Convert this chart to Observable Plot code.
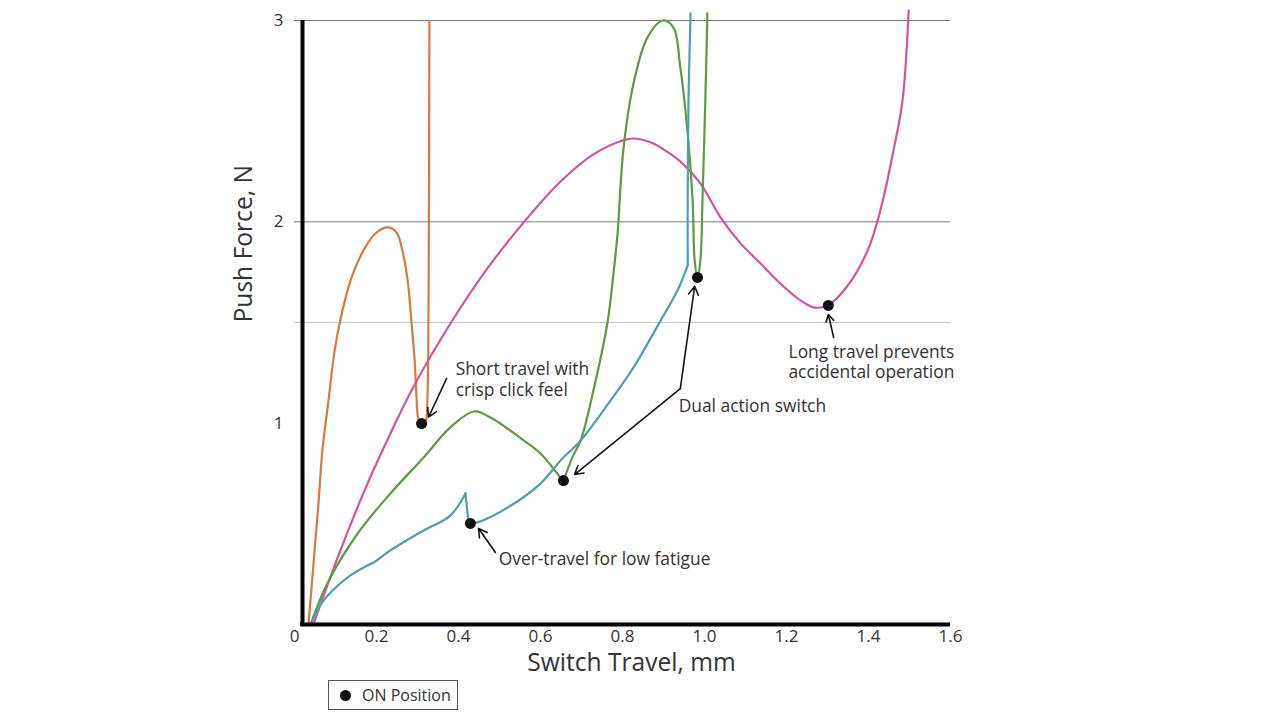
<!DOCTYPE html>
<html><head><meta charset="utf-8">
<script src="https://cdn.jsdelivr.net/npm/d3@7"></script>
<script src="https://cdn.jsdelivr.net/npm/@observablehq/plot@0.6"></script>
<style>
body{margin:0;background:#fff;font-family:"Open Sans",sans-serif;}
#wrap{position:relative;width:1280px;height:721px;overflow:hidden;}
#legend{position:absolute;left:328px;top:680px;width:128px;height:28px;border:1px solid #555;box-sizing:content-box;display:flex;align-items:center;font-size:16px;color:#333;}
#legend .dot{display:inline-block;width:11px;height:11px;border-radius:50%;background:#111;margin-left:11px;margin-right:11px;}
</style></head><body><div id="wrap"></div>
<script>
// Curves (x: switch travel mm, y: push force N)
const orangeX = [0.034,0.041,0.049,0.059,0.068,0.083,0.098,0.117,0.141,0.171,0.200,0.229,0.249,0.263,0.276,0.285,0.293,0.298,0.302,0.310,0.320,0.324,0.327,0.329];
const orangeY = [0,0.169,0.368,0.616,0.864,1.113,1.361,1.560,1.734,1.868,1.947,1.972,1.947,1.858,1.709,1.510,1.311,1.113,1.023,0.998,1.013,1.113,1.61,3.0];
const orangeBreaks = [];

const pinkX = [0.046,0.112,0.178,0.234,0.290,0.388,0.471,0.556,0.649,0.729,0.802,0.827,0.868,0.900,0.941,0.990,1.039,1.088,1.137,1.185,1.234,1.266,1.300,1.344,1.398,1.429,1.461,1.483,1.498];
const pinkY = [0,0.368,0.700,0.949,1.180,1.520,1.770,1.990,2.200,2.335,2.405,2.414,2.395,2.360,2.300,2.191,2.022,1.893,1.793,1.694,1.610,1.575,1.585,1.669,1.858,2.057,2.355,2.603,3.05];
const pinkBreaks = [];

const greenX = [0.039,0.080,0.154,0.234,0.315,0.380,0.437,0.478,0.559,0.600,0.649,0.656,0.680,0.698,0.729,0.763,0.778,0.788,0.802,0.827,0.861,0.898,0.924,0.941,0.959,0.971,0.976,0.983,0.990,0.995,1.002,1.007];
const greenY = [0,0.204,0.452,0.651,0.830,0.979,1.058,1.028,0.914,0.849,0.730,0.715,0.840,0.914,1.162,1.495,1.744,1.942,2.355,2.688,2.916,3.000,2.966,2.767,2.439,2.106,1.808,1.724,1.808,2.106,2.603,3.035];
const greenBreaks = [11];

const tealX = [0.039,0.071,0.129,0.178,0.193,0.234,0.315,0.380,0.417,0.424,0.429,0.446,0.520,0.600,0.649,0.698,0.771,0.827,0.893,0.934,0.959,0.959,0.961,0.966];
const tealY = [0,0.119,0.233,0.293,0.308,0.368,0.467,0.541,0.651,0.512,0.502,0.507,0.581,0.700,0.815,0.914,1.113,1.277,1.510,1.659,1.783,2.106,2.603,3.035];
const tealBreaks = [8,9,20];

// ON positions
const onX = [0.310,0.429,0.656,0.983,1.302];
const onY = [0.998,0.502,0.715,1.724,1.585];

// Annotation arrows (data coordinates)
const arrowX1 = [0.371,0.941,0.941,0.490,1.315];
const arrowY1 = [1.222,1.172,1.172,0.358,1.426];
const arrowX2 = [0.327,0.683,0.976,0.449,1.302];
const arrowY2 = [1.030,0.745,1.680,0.477,1.540];

// Annotation text lines
const noteText = ["Short travel with","crisp click feel","Dual action switch","Over-travel for low fatigue","Long travel prevents","accidental operation"];
const noteX = [0.393,0.393,0.937,0.498,1.407,1.407];
const noteY = [1.267,1.162,1.083,0.323,1.351,1.252];
const noteAnchor = ["start","start","start","start","middle","middle"];

const xTicks = [0,0.2,0.4,0.6,0.8,1.0,1.2,1.4,1.6];
const yTicks = [1,2,3];
const xTitle = "Switch Travel, mm";
const yTitle = "Push Force, N";
const legendLabel = "ON Position";

function segmentize(xs, ys, breaks) {
  const rows = [];
  let seg = 0;
  xs.forEach((x, i) => {
    rows.push({x, y: ys[i], seg});
    if (breaks.includes(i)) { seg++; rows.push({x, y: ys[i], seg}); }
  });
  return rows;
}

const series = [
  {xs:orangeX, ys:orangeY, br:orangeBreaks, color:"#d8793f"},
  {xs:pinkX, ys:pinkY, br:pinkBreaks, color:"#d4549b"},
  {xs:greenX, ys:greenY, br:greenBreaks, color:"#5c9a44"},
  {xs:tealX, ys:tealY, br:tealBreaks, color:"#4e9eb3"}
];
const lineMarks = series.map(s => Plot.line(segmentize(s.xs, s.ys, s.br), {x:"x", y:"y", z:"seg", stroke:s.color, strokeWidth:2.2, curve:"catmull-rom"}));

const dots = onX.map((x,i)=>({x, y:onY[i]}));
const arrows = arrowX1.map((x,i)=>({x1:x, y1:arrowY1[i], x2:arrowX2[i], y2:arrowY2[i]}));
const notes = noteText.map((t,i)=>({t, x:noteX[i], y:noteY[i], a:noteAnchor[i]}));

const chart = Plot.plot({
  width:1280, height:721,
  marginLeft:294, marginRight:330, marginTop:20, marginBottom:97,
  style:{fontFamily:"'Open Sans', sans-serif", color:"#333", background:"white"},
  x:{domain:[0,1.6]},
  y:{domain:[0,3]},
  marks:[
    Plot.ruleY([1.5], {stroke:"#c4c4c4", strokeWidth:1}),
    Plot.ruleY([2,3], {stroke:"#7a7a7a", strokeWidth:1}),
    ...lineMarks,
    Plot.ruleX([0], {y1:0, y2:3, stroke:"#000", strokeWidth:4, dx:8}),
    Plot.ruleY([0], {x1:0.015, x2:1.6, stroke:"#000", strokeWidth:4}),
    Plot.dot(dots, {x:"x", y:"y", r:5.5, fill:"#111", stroke:"none"}),
    Plot.arrow(arrows, {x1:"x1", y1:"y1", x2:"x2", y2:"y2", stroke:"#111", strokeWidth:1.6, headLength:9, bend:0}),
    Plot.text(notes.filter(d=>d.a==="start"), {x:"x", y:"y", text:"t", textAnchor:"start", fontSize:17.4, fill:"#333"}),
    Plot.text(notes.filter(d=>d.a==="middle"), {x:"x", y:"y", text:"t", textAnchor:"middle", fontSize:17.4, fill:"#333"}),
    Plot.axisX({ticks:xTicks, tickFormat:d=> d===0 ? "0" : d3.format(".1f")(d), tickSize:0, tickPadding:5, fontSize:17, label:null}),
    Plot.axisY({ticks:yTicks, tickFormat:d=>String(d), tickSize:0, tickPadding:11, fontSize:17, label:null}),
    Plot.text([xTitle], {frameAnchor:"bottom", text:d=>d, dy:46, dx:9, fontSize:24.6, fill:"#333"}),
    Plot.text([yTitle], {frameAnchor:"left", text:d=>d, dx:-50, rotate:-90, fontSize:24.6, fill:"#333"})
  ]
});
const wrap = document.getElementById("wrap");
wrap.appendChild(chart);
const leg = document.createElement("div");
leg.id = "legend";
leg.innerHTML = '<span class="dot"></span><span></span>';
leg.lastChild.textContent = legendLabel;
wrap.appendChild(leg);
</script>
</body></html>
